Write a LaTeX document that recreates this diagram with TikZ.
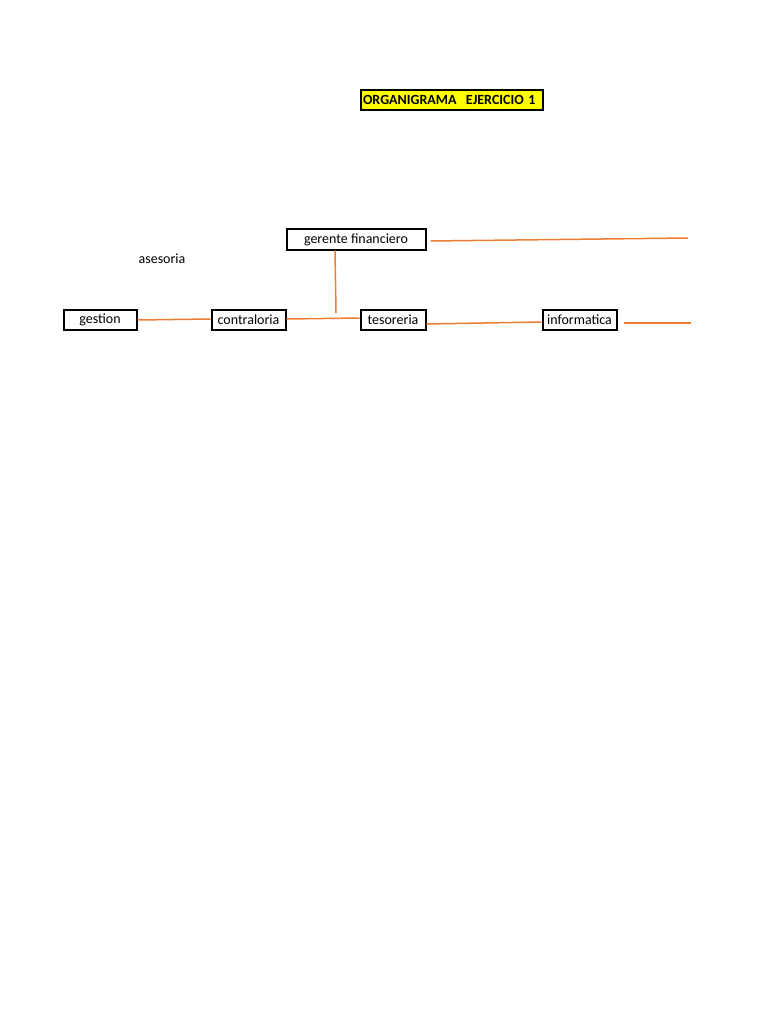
\documentclass[tikz,border=0pt]{standalone}
\usepackage{fontspec}
\setmainfont{Carlito}
\definecolor{linea}{RGB}{237,125,49}
\definecolor{titulo}{RGB}{255,255,0}
\tikzset{
  caja/.style={draw=black, line width=2pt, fill=white, inner sep=0pt, minimum height=20pt, font=\fontsize{14}{16}\selectfont},
  enlace/.style={draw=linea, line width=1.5pt}
}
\begin{document}
\begin{tikzpicture}[x=1pt, y=-1pt]
      \useasboundingbox (0,0) rectangle (768,1024);
      \fill[white] (0,0) rectangle (768,1024);

      \node[caja, fill=titulo, inner xsep=2.5pt, text width=177pt, align=left, font=\bfseries\fontsize{14}{16}\selectfont] (titulo) at (451.5,100) {ORGANIGRAMA\ \ EJERCICIO 1};

      \node[caja, minimum width=139pt] (gerente) at (356,239.5) {gerente financiero};
      \node[font=\fontsize{14}{16}\selectfont] (asesoria) at (162,259) {asesoria};

      \node[caja, minimum width=73pt] (gestion) at (100,319.5) {gestion};
      \node[caja, minimum width=74pt] (contraloria) at (248.5,319.5) {contraloria};
      \node[caja, minimum width=65pt] (tesoreria) at (393,319.5) {tesoreria};
      \node[caja, minimum width=74pt] (informatica) at (579.5,319.5) {informatica};

      \coordinate (finA) at (688,238);
      \coordinate (finB) at (691,323);
      \coordinate (union) at (336,313);

      \draw[enlace] ([xshift=4pt,yshift=-1.5pt]gerente.east) -- (finA);
      \draw[enlace] ([xshift=-21pt]gerente.south) -- (union);
      \draw[enlace] ([yshift=-0.5pt]gestion.east) -- ([yshift=0.5pt]contraloria.west);
      \draw[enlace] ([yshift=0.5pt]contraloria.east) -- ([yshift=1.5pt]tesoreria.west);
      \draw[enlace] ([yshift=-4.5pt]tesoreria.east) -- ([yshift=-2.5pt]informatica.west);
      \draw[enlace] ([xshift=6pt,yshift=-3.5pt]informatica.east) -- (finB);
\end{tikzpicture}
\end{document}
